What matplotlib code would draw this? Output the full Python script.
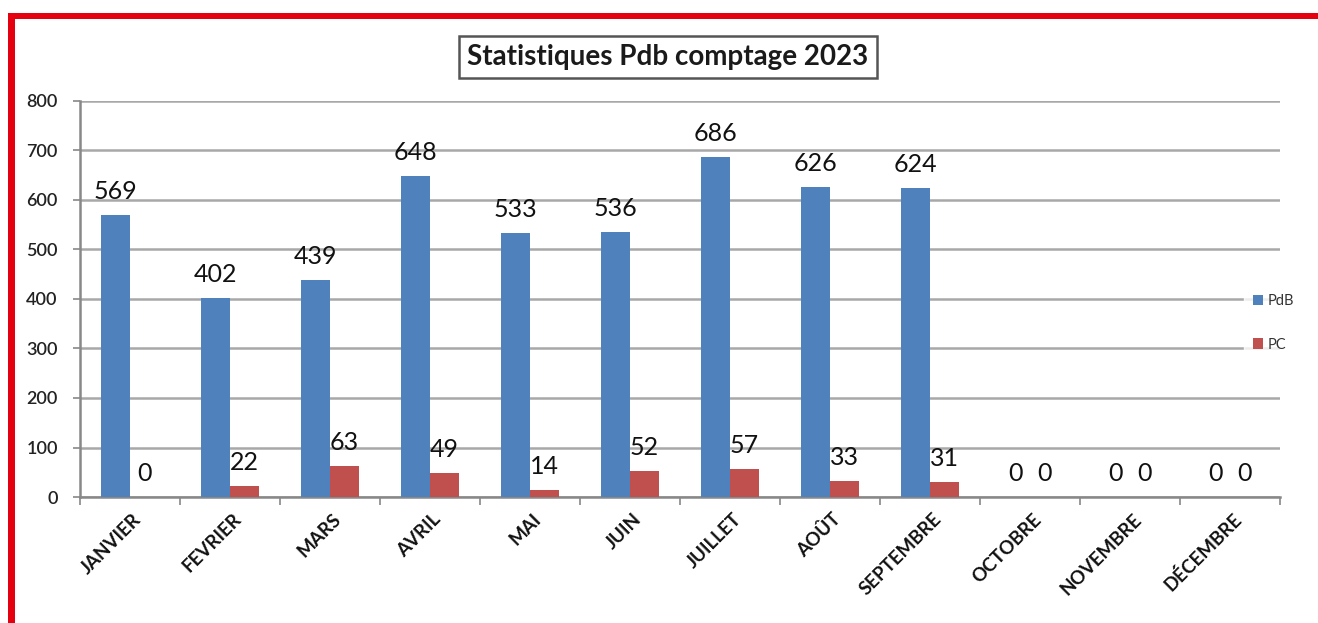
import matplotlib
matplotlib.use("Agg")
import matplotlib.pyplot as plt
import numpy as np
from matplotlib.patches import Rectangle

months = ["JANVIER", "FEVRIER", "MARS", "AVRIL", "MAI", "JUIN", "JUILLET",
          "AOÛT", "SEPTEMBRE", "OCTOBRE", "NOVEMBRE", "DÉCEMBRE"]
pdb = [569, 402, 439, 648, 533, 536, 686, 626, 624, 0, 0, 0]
pc = [0, 22, 63, 49, 14, 52, 57, 33, 31, 0, 0, 0]
yticks = [0, 100, 200, 300, 400, 500, 600, 700, 800]
title = "Statistiques Pdb comptage 2023"

plt.rcParams['font.family'] = ['Lato', 'DejaVu Sans']

W, H = 1318, 623
fig = plt.figure(figsize=(W / 100, H / 100), dpi=100)
fig.patch.set_facecolor("white")

ax = fig.add_axes([80 / W, 1 - 497 / H, 1200 / W, 396 / H])
x = np.arange(len(months))
bw = 0.29
blue = "#4F81BD"
red = "#C0504D"
b1 = ax.bar(x - bw / 2, pdb, bw, color=blue, label="PdB", zorder=3)
b2 = ax.bar(x + bw / 2, pc, bw, color=red, label="PC", zorder=3)

for bars, vals in ((b1, pdb), (b2, pc)):
    for r, v in zip(bars, vals):
        ax.annotate(str(v), (r.get_x() + r.get_width() / 2, v),
                    xytext=(0, 11.5), textcoords="offset points",
                    ha="center", va="baseline", fontsize=18, color="#111111")

ax.set_xlim(-0.5, len(months) - 0.5)
ax.set_ylim(0, 800)
ax.set_yticks(yticks)
ax.set_yticklabels([str(t) for t in yticks], fontsize=13, color="#222222",
                   fontweight="semibold")
ax.yaxis.grid(True, color="#a8a8a8", linewidth=1.8, zorder=0)
ax.set_axisbelow(True)

ax.set_xticks(np.arange(len(months) + 1) - 0.5)
ax.set_xticklabels([])
ax.tick_params(axis="x", length=6, color="#888888", width=1.2)
ax.tick_params(axis="y", length=5, color="#888888", width=1.2, pad=11)
for i, m in enumerate(months):
    ax.annotate(m, (i, 0), xytext=(6, -14), textcoords="offset points",
                ha="right", va="center", rotation=45, rotation_mode="anchor",
                fontsize=13.5, fontweight="bold", color="#111111")

for s in ("top", "right"):
    ax.spines[s].set_visible(False)
ax.spines["left"].set_color("#888888")
ax.spines["left"].set_linewidth(1.8)
ax.spines["bottom"].set_color("#888888")
ax.spines["bottom"].set_linewidth(1.8)

leg = fig.legend(handles=[b1, b2], labels=["PdB", "PC"],
                 loc="center left", bbox_to_anchor=(1244 / W, 1 - 323 / H),
                 frameon=True, fontsize=10.5, handlelength=0.7, handleheight=0.7,
                 handletextpad=0.3, labelspacing=2.0, borderpad=0.6,
                 borderaxespad=0)
leg.get_frame().set_edgecolor("white")
leg.get_frame().set_facecolor("white")
for t in leg.get_texts():
    t.set_color("#333333")

fig.text(668 / W, 1 - 57 / H, title, ha="center", va="center",
         fontsize=20, fontweight="bold", color="#1a1a1a",
         bbox=dict(boxstyle="square,pad=0.3", facecolor="white",
                   edgecolor="#555555", linewidth=1.8))

# red frame (top and left)
fig.patches.append(Rectangle((8 / W, 1 - 19 / H), 1 - 8 / W + 0.01, 6 / H,
                             transform=fig.transFigure, facecolor="#E5000F",
                             edgecolor="none", zorder=10))
fig.patches.append(Rectangle((8 / W, -0.01), 7 / W, 1 - 13 / H + 0.01,
                             transform=fig.transFigure, facecolor="#E5000F",
                             edgecolor="none", zorder=10))

fig.savefig("out.png", dpi=100)
